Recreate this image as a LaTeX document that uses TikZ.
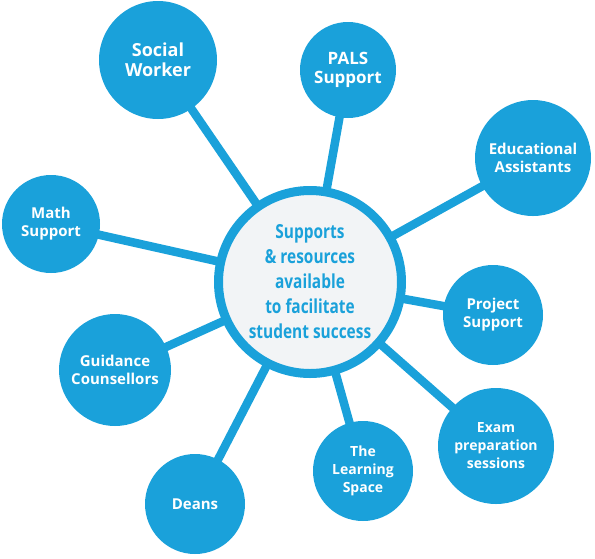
\documentclass[tikz,border=0pt]{standalone}
\usepackage{fontspec}
\usetikzlibrary{backgrounds}
\newfontfamily\satfont{Open Sans}
\newfontfamily\cenfont{Open Sans}[FakeStretch=0.8]
\definecolor{sblue}{HTML}{1AA1DA}
\definecolor{cgray}{HTML}{F2F4F6}
\tikzset{
  sat/.style={circle, fill=sblue, draw=none, inner sep=0pt, align=center,
    text=white, font=\satfont\bfseries},
  cen/.style={circle, fill=cgray, draw=sblue, line width=9pt, inner sep=0pt,
    minimum size=183pt, align=center, text=sblue,
    font=\cenfont\bfseries\fontsize{19.3}{25}\selectfont},
  conn/.style={draw=sblue, line width=8.5pt}
}
\begin{document}
\begin{tikzpicture}[x=1pt,y=-1pt]
\useasboundingbox (0,0) rectangle (595,558);
\node[cen] (c) at (310,282) {Supports\\ \& resources\\ available\\ to facilitate\\ student success};
\node[sat, minimum size=118pt, font=\satfont\bfseries\fontsize{18}{20}\selectfont] (sw) at (158,60) {Social\\Worker};
\node[sat, minimum size=96pt, font=\satfont\bfseries\fontsize{17}{19}\selectfont] (pals) at (348,70) {PALS\\Support};
\node[sat, minimum size=116pt, font=\satfont\bfseries\fontsize{15}{18}\selectfont] (edu) at (533,158) {Educational\\Assistants};
\node[sat, minimum size=98pt, font=\satfont\bfseries\fontsize{15}{18}\selectfont] (math) at (51,224) {Math\\Support};
\node[sat, minimum size=100pt, font=\satfont\bfseries\fontsize{15}{18}\selectfont] (proj) at (493,315) {Project\\Support};
\node[sat, minimum size=112pt, font=\satfont\bfseries\fontsize{15}{18}\selectfont] (guid) at (115,370) {Guidance\\Counsellors};
\node[sat, minimum size=116pt, font=\satfont\bfseries\fontsize{14}{18}\selectfont] (exam) at (496,446) {Exam\\preparation\\sessions};
\node[sat, minimum size=100pt, font=\satfont\bfseries\fontsize{14}{18}\selectfont] (learn) at (363,471) {The\\Learning\\Space};
\node[sat, minimum size=100pt, font=\satfont\bfseries\fontsize{15}{18}\selectfont] (deans) at (195,504) {Deans};
\begin{pgfonlayer}{background}
\foreach \n in {sw,pals,edu,math,proj,guid,exam,learn,deans}
  \draw[conn] (c.center) -- (\n.center);
\end{pgfonlayer}
\end{tikzpicture}
\end{document}
